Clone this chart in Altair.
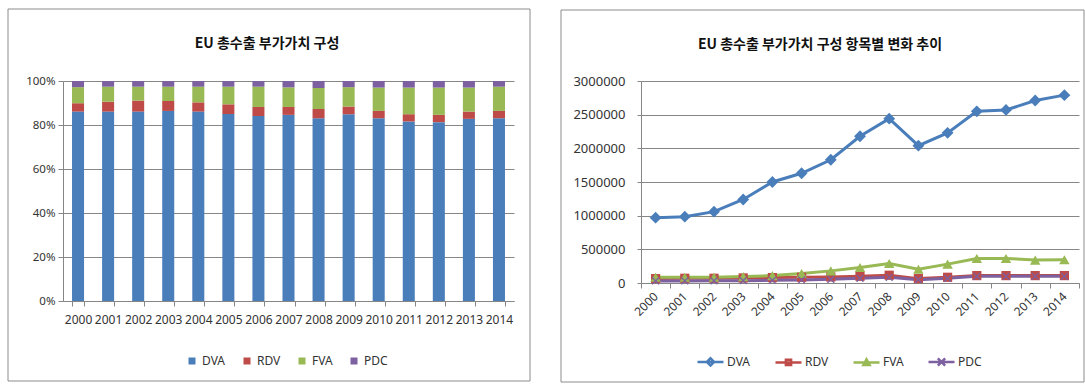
import altair as alt
import pandas as pd

# ---------------- data ----------------
years = [str(y) for y in range(2000, 2015)]
series = ["DVA", "RDV", "FVA", "PDC"]
colors = ["#4A7EBB", "#BE4B48", "#98B954", "#7D60A0"]
marker_shapes = ["diamond", "square", "triangle-up",
                 "M-1,-0.75L-0.75,-1L1,0.75L0.75,1ZM0.75,-1L1,-0.75L-0.75,1L-1,0.75Z"]
marker_sizes = [140, 85, 110, 60]

# shares (%)
dva_share = [86.1, 86.1, 86.1, 86.4, 86.1, 85.0, 84.1, 84.6, 83.1, 84.9, 83.1, 81.6, 81.3, 82.8, 83.1]
rdv_share = [3.8, 4.5, 5.0, 4.5, 4.2, 4.4, 4.1, 3.6, 4.2, 3.5, 3.3, 3.3, 3.3, 3.3, 3.3]
fva_share = [7.3, 6.8, 6.3, 6.5, 7.1, 8.0, 9.2, 8.9, 9.5, 8.8, 10.6, 12.1, 12.4, 10.9, 11.0]
pdc_share = [2.8, 2.6, 2.6, 2.6, 2.6, 2.6, 2.6, 2.9, 3.2, 2.8, 3.0, 3.0, 3.0, 3.0, 2.6]

# absolute values
dva_value = [970000, 985000, 1060000, 1240000, 1500000, 1630000, 1830000, 2180000,
             2440000, 2040000, 2230000, 2550000, 2570000, 2710000, 2790000]
rdv_value = [65000, 70000, 70000, 75000, 80000, 85000, 90000, 100000,
             115000, 65000, 85000, 110000, 110000, 110000, 110000]
fva_value = [85000, 85000, 85000, 95000, 110000, 140000, 180000, 230000,
             290000, 205000, 280000, 365000, 365000, 340000, 345000]
pdc_value = [30000, 30000, 32000, 35000, 40000, 45000, 55000, 70000,
             85000, 50000, 70000, 100000, 100000, 100000, 100000]

y_pct_ticks = [0, 0.2, 0.4, 0.6, 0.8, 1.0]
y_abs_ticks = [0, 500000, 1000000, 1500000, 2000000, 2500000, 3000000]

title_left = "EU 총수출 부가가치 구성"
title_right = "EU 총수출 부가가치 구성 항목별 변화 추이"

shares = {"DVA": dva_share, "RDV": rdv_share, "FVA": fva_share, "PDC": pdc_share}
values = {"DVA": dva_value, "RDV": rdv_value, "FVA": fva_value, "PDC": pdc_value}

share_df = pd.DataFrame(
    [{"year": y, "part": s, "share": shares[s][i], "ord": k}
     for k, s in enumerate(series) for i, y in enumerate(years)]
)
value_df = pd.DataFrame(
    [{"yr": y, "item": s, "value": values[s][i]}
     for s in series for i, y in enumerate(years)]
)

# ---------------- style ----------------
FONT = "Noto Sans"
KFONT = "Noto Sans CJK KR"
AX = "#868686"
TXT = "#333333"

LW, LH = 451, 220
RW, RH = 438, 202

one = alt.Data(values=[{"f": 1}])

# ---------------- left: 100% stacked bars ----------------
left_frame = alt.Chart(one).mark_rect(fillOpacity=0, stroke="#8c8c8c", strokeWidth=1).encode(
    x=alt.value(-55), x2=alt.value(467), y=alt.value(-72), y2=alt.value(300)
)
left_title = alt.Chart(one).mark_text(
    font=KFONT, fontSize=14, fontWeight="bold", color="#111111", align="center", baseline="middle"
).encode(x=alt.value(204), y=alt.value(-37), text=alt.value(title_left))

bars = alt.Chart(share_df).mark_bar().encode(
    x=alt.X("year:N", sort=years,
            scale=alt.Scale(paddingInner=0.6, paddingOuter=0.3),
            axis=alt.Axis(title=None, labelAngle=0, labelFont=FONT, labelFontSize=12,
                          labelColor=TXT, domainColor=AX, tickColor=AX, tickBand="extent",
                          tickSize=5, labelPadding=8)),
    y=alt.Y("share:Q", stack="normalize", scale=alt.Scale(domain=[0, 1]),
            axis=alt.Axis(title=None, format=".0%", values=y_pct_ticks, grid=True,
                          gridColor=AX, domainColor=AX, tickColor=AX, tickSize=5,
                          labelPadding=3, labelFont=FONT, labelFontSize=11.5, labelColor=TXT)),
    color=alt.Color("part:N", scale=alt.Scale(domain=series, range=colors),
                    legend=alt.Legend(title=None, orient="none", legendX=123, legendY=274,
                                      direction="horizontal", symbolType="square", symbolSize=49,
                                      symbolStrokeWidth=0, labelFont=FONT, labelFontSize=12,
                                      labelColor=TXT, labelOffset=4, columnPadding=15)),
    order=alt.Order("ord:Q", sort="ascending"),
)

left = alt.layer(bars, left_frame, left_title).properties(width=LW, height=LH)

# ---------------- right: lines with markers ----------------
right_frame = alt.Chart(one).mark_rect(fillOpacity=0, stroke="#8c8c8c", strokeWidth=1).encode(
    x=alt.value(-80), x2=alt.value(443), y=alt.value(-71), y2=alt.value(301)
)
right_title = alt.Chart(one).mark_text(
    font=KFONT, fontSize=14, fontWeight="bold", color="#111111", align="center", baseline="middle"
).encode(x=alt.value(179), y=alt.value(-36), text=alt.value(title_right))

xr = alt.X("yr:N", sort=years,
           scale=alt.Scale(type="band", paddingInner=0, paddingOuter=0),
           axis=alt.Axis(title=None, labelAngle=-45, labelAlign="right", labelBaseline="middle",
                         labelFont=FONT, labelFontSize=12, labelColor=TXT, domainColor=AX,
                         tickColor=AX, tickBand="extent", tickSize=5, labelPadding=6))
yr = alt.Y("value:Q", scale=alt.Scale(domain=[0, 3000000]),
           axis=alt.Axis(title=None, format="d", values=y_abs_ticks, grid=True, gridColor=AX,
                         domainColor=AX, tickColor=AX, tickSize=4, labelPadding=12,
                         labelFont=FONT, labelFontSize=13, labelColor=TXT))

leg_paths = {
    "DVA": "M-1,0H1M-0.28,0L0,-0.28L0.28,0L0,0.28Z",
    "RDV": "M-1,0H1M-0.2,-0.2H0.2V0.2H-0.2Z",
    "FVA": "M-1,0H1M-0.24,0.2L0,-0.24L0.24,0.2Z",
    "PDC": "M-1,0H1M-0.28,-0.28L0.28,0.28M-0.28,0.28L0.28,-0.28",
}
sym_expr = (
    "datum.value === 'DVA' ? '" + leg_paths["DVA"] + "' : "
    "datum.value === 'RDV' ? '" + leg_paths["RDV"] + "' : "
    "datum.value === 'FVA' ? '" + leg_paths["FVA"] + "' : '" + leg_paths["PDC"] + "'"
)

lines = alt.Chart(value_df).mark_line(strokeWidth=3).encode(
    x=xr, y=yr,
    color=alt.Color("item:N", scale=alt.Scale(domain=series, range=colors),
                    legend=alt.Legend(title=None, orient="none", legendX=55, legendY=266,
                                      direction="horizontal",
                                      symbolType=alt.ExprRef(sym_expr), symbolSize=676,
                                      symbolStrokeWidth=2.5, labelFont=FONT, labelFontSize=12,
                                      labelColor=TXT, labelOffset=2, columnPadding=19)),
)

point_layers = []
for s, c, shp, sz in zip(series, colors, marker_shapes, marker_sizes):
    point_layers.append(
        alt.Chart(value_df).transform_filter(alt.datum.item == s)
        .mark_point(filled=True, opacity=1, color=c, shape=shp, size=sz, strokeWidth=0)
        .encode(x=xr, y=yr)
    )

right = alt.layer(lines, *point_layers, right_frame, right_title).properties(width=RW, height=RH)

chart = alt.hconcat(left, right, spacing=29).resolve_scale(
    color="independent"
).resolve_legend(
    color="independent"
).properties(
    padding={"left": 7, "top": 8, "right": 0, "bottom": 0},
    background="white",
).configure_view(stroke=None)

chart.save("out.html", embed_options={"renderer": "svg", "actions": False})
